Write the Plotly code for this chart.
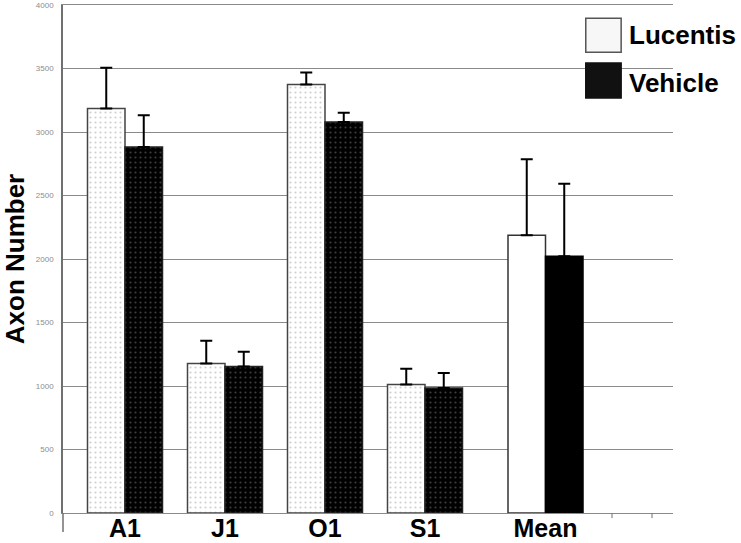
import plotly.graph_objects as go

# ---- data ----
animals = ["A1", "J1", "O1", "S1"]
lucentis = [3185, 1178, 3374, 1011]
lucentis_sd = [320, 178, 94, 125]
vehicle = [2881, 1154, 3078, 985]
vehicle_sd = [250, 116, 73, 118]

mean_label = ["Mean"]
lucentis_mean = [2187]
lucentis_mean_sd = [598]
vehicle_mean = [2022]
vehicle_mean_sd = [571]

y_ticks = [0, 500, 1000, 1500, 2000, 2500, 3000, 3500, 4000]

# ---- styles ----
err_style = dict(type="data", symmetric=False, color="black", thickness=2, width=6)
label_font = dict(family="Arial", size=26, color="black")
grid_col = "#8a8a8a"

fig = go.Figure()

fig.add_trace(go.Bar(
    x=animals, y=lucentis, name="Lucentis", xaxis="x", yaxis="y",
    marker=dict(color="white", line=dict(color="#444", width=1.5),
                pattern=dict(shape=".", fgcolor="#a0a0a0", bgcolor="white",
                             size=5, solidity=0.15)),
    error_y=dict(array=lucentis_sd, arrayminus=[0] * len(animals), **err_style)))
fig.add_trace(go.Bar(
    x=animals, y=vehicle, name="Vehicle", xaxis="x", yaxis="y",
    marker=dict(color="black", line=dict(color="#222", width=1.5),
                pattern=dict(shape=".", fgcolor="#7a7a7a", bgcolor="black",
                             size=5, solidity=0.15)),
    error_y=dict(array=vehicle_sd, arrayminus=[0] * len(animals), **err_style)))

fig.add_trace(go.Bar(
    x=mean_label, y=lucentis_mean, name="Lucentis mean", xaxis="x2", yaxis="y",
    marker=dict(color="white", line=dict(color="#333", width=1.5)),
    error_y=dict(array=lucentis_mean_sd, arrayminus=[0], **err_style)))
fig.add_trace(go.Bar(
    x=mean_label, y=vehicle_mean, name="Vehicle mean", xaxis="x2", yaxis="y",
    marker=dict(color="black", line=dict(color="black", width=1.5)),
    error_y=dict(array=vehicle_mean_sd, arrayminus=[0], **err_style)))

xcommon = dict(showgrid=False, zeroline=False, ticks="",
               showline=True, mirror=True, linecolor=grid_col, linewidth=1,
               tickfont=dict(family="Arial", size=25, color="black"),
               ticklabelstandoff=-7,
               tickmode="array", automargin=False, fixedrange=True)

fig.update_layout(
    width=741, height=543,
    margin=dict(l=63, r=68, t=5, b=30),
    paper_bgcolor="white", plot_bgcolor="white",
    font=dict(family="Arial"),
    barmode="group", bargap=0.25, bargroupgap=0.0,
    showlegend=False,
    xaxis=dict(domain=[0.0, 0.69], anchor="y", range=[-0.62, 3.589],
               tickvals=animals, ticktext=["<b>%s</b>" % a for a in animals],
               **xcommon),
    xaxis2=dict(domain=[0.69, 1.0], anchor="y", range=[-0.616, 1.275],
                tickvals=mean_label, ticktext=["<b>%s</b>" % m for m in mean_label],
                **xcommon),
    yaxis=dict(range=[0, 4000], tickvals=y_ticks, ticks="",
               tickfont=dict(family="Arial", size=8, color="#8c8c8c"),
               ticklabelstandoff=6,
               title=dict(text="<b>Axon Number</b>", standoff=14,
                          font=dict(family="Arial", size=26, color="black")),
               showgrid=True, gridcolor=grid_col, gridwidth=1,
               zeroline=False, showline=True, linecolor="#707070", linewidth=1.5,
               automargin=False, fixedrange=True),
)

# extend left axis line below the baseline and add bottom tick marks
fig.add_shape(type="line", xref="paper", yref="paper", x0=0, x1=0, y0=0, y1=-0.0374,
              line=dict(color="#707070", width=1.5))
for xp in [0.900, 0.9656]:
    fig.add_shape(type="line", xref="paper", yref="paper", x0=xp, x1=xp, y0=0, y1=-0.01,
                  line=dict(color="#707070", width=1))

# legend drawn by hand
fig.add_shape(type="rect", xref="paper", yref="paper", x0=0.857, x1=0.915,
              y0=0.907, y1=0.974, fillcolor="#f7f7f7", line=dict(color="#555", width=1.5))
fig.add_shape(type="rect", xref="paper", yref="paper", x0=0.857, x1=0.915,
              y0=0.817, y1=0.886, fillcolor="#111", line=dict(color="#111", width=1.5))
fig.add_annotation(text="<b>Lucentis</b>", xref="paper", yref="paper", x=0.925, y=0.941,
                   xanchor="left", yanchor="middle", showarrow=False, font=label_font)
fig.add_annotation(text="<b>Vehicle</b>", xref="paper", yref="paper", x=0.925, y=0.846,
                   xanchor="left", yanchor="middle", showarrow=False, font=label_font)

# remove the default page margin so the 741x543 figure fills the window exactly
fig.write_html("out.html",
               config={"displayModeBar": False},
               post_script="document.body.style.margin='0';document.body.style.overflow='hidden';")
